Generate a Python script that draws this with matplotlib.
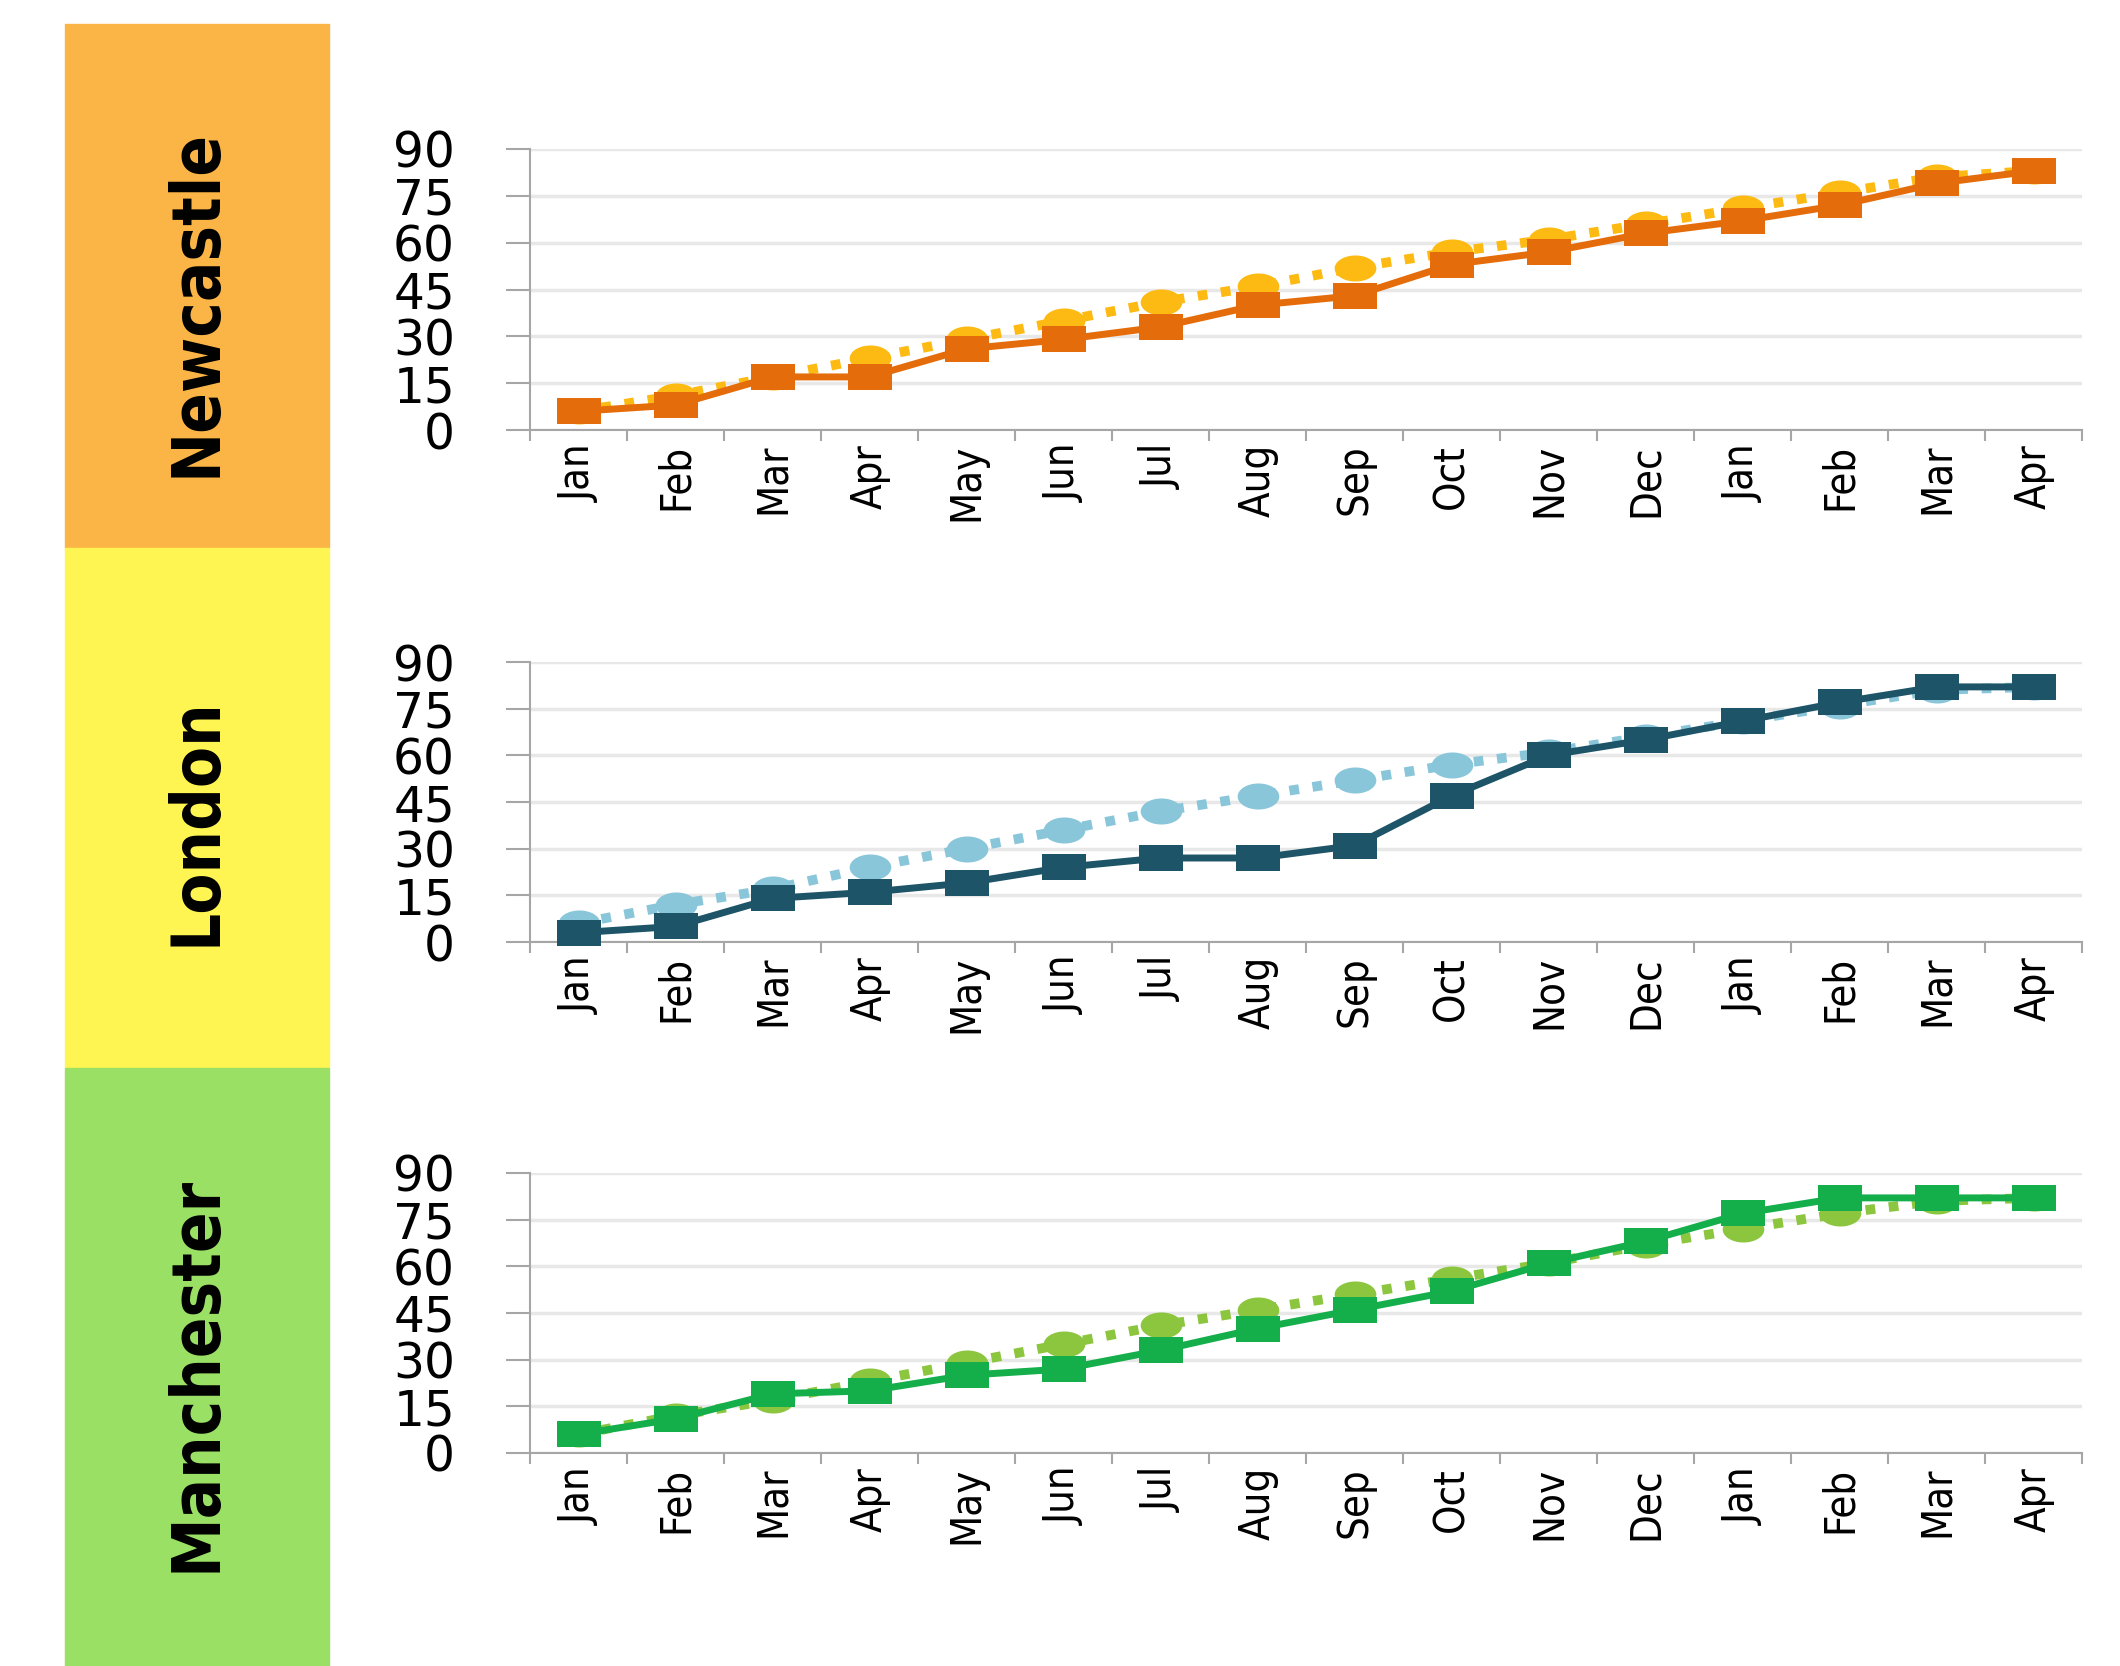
import numpy as np
import matplotlib
matplotlib.use("Agg")
import matplotlib.pyplot as plt
from matplotlib.patches import Rectangle
from matplotlib.path import Path
from matplotlib import font_manager

# data
months = ["Jan", "Feb", "Mar", "Apr", "May", "Jun", "Jul", "Aug",
          "Sep", "Oct", "Nov", "Dec", "Jan", "Feb", "Mar", "Apr"]
cities = ["Newcastle", "London", "Manchester"]

newcastle_actual = [6, 8, 17, 17, 26, 29, 33, 40, 43, 53, 57, 63, 67, 72, 79, 83]
newcastle_target = [6, 11, 17, 23, 29, 35, 41, 46, 52, 57, 61, 66, 71, 76, 81, 83]
london_actual = [3, 5, 14, 16, 19, 24, 27, 27, 31, 47, 60, 65, 71, 77, 82, 82]
london_target = [6, 12, 17, 24, 30, 36, 42, 47, 52, 57, 61, 66, 71, 76, 81, 82]
manchester_actual = [6, 11, 19, 20, 25, 27, 33, 40, 46, 52, 61, 68, 77, 82, 82, 82]
manchester_target = [6, 12, 17, 23, 29, 35, 41, 46, 51, 56, 61, 67, 72, 77, 81, 82]

actuals = [newcastle_actual, london_actual, manchester_actual]
targets = [newcastle_target, london_target, manchester_target]

panel_colors = ["#FBB446", "#FFF552", "#99E064"]
actual_colors = ["#E46C0A", "#1D5467", "#14AE4B"]
target_colors = ["#FDBA12", "#8AC6D9", "#8CC63F"]

# the source uses a narrow face; pick a condensed one if installed
narrow = None
for f in font_manager.fontManager.ttflist:
    if f.stretch in ("condensed", "semi-condensed", "extra-condensed") or \
            "Narrow" in f.name or "Condensed" in f.name:
        narrow = f
        break
if narrow is not None:
    cond_kw = {"family": narrow.name, "stretch": narrow.stretch}
else:
    cond_kw = {"family": "DejaVu Sans"}

W, H = 2120, 1666
fig = plt.figure(figsize=(W / 100, H / 100), dpi=100)

# wide markers (the source picture is stretched sideways)
sq = Path([(-1.6, -1), (1.6, -1), (1.6, 1), (-1.6, 1), (-1.6, -1)],
          [Path.MOVETO, Path.LINETO, Path.LINETO, Path.LINETO, Path.CLOSEPOLY])
t = np.linspace(0, 2 * np.pi, 60)
ell = Path(np.column_stack([1.6 * np.cos(t), np.sin(t)]), closed=True)

# coloured side panels (pixel edges top->bottom)
panel_edges = [24, 548, 1068, 1666]
for i, c in enumerate(panel_colors):
    y0, y1 = panel_edges[i], panel_edges[i + 1]
    fig.patches.append(Rectangle((65 / W, 1 - y1 / H), (329 - 65) / W, (y1 - y0) / H,
                                 transform=fig.transFigure, color=c, zorder=0))

label_y = [303, 822, 1374]
axes_px = [(149, 430), (662, 942), (1173, 1453)]
x = np.arange(len(months))
grey = "#A6A6A6"

for i in range(3):
    top, bot = axes_px[i]
    ax = fig.add_axes([530 / W, 1 - bot / H, (2082 - 530) / W, (bot - top) / H])
    ax.plot(x, targets[i], color=target_colors[i], lw=7, linestyle=(0, (1, 1.4)),
            dash_capstyle="butt", marker=ell, markersize=30, markeredgewidth=0,
            clip_on=False, zorder=3)
    ax.plot(x, actuals[i], color=actual_colors[i], lw=5, marker=sq, markersize=31,
            markeredgewidth=0, clip_on=False, zorder=4)

    ax.set_xlim(-0.5, len(months) - 0.5)
    ax.set_ylim(0, 90)
    ax.set_yticks(range(0, 91, 15))
    ax.set_xticks(x)
    ax.set_xticklabels(months, rotation=90, fontsize=30, va="top", **cond_kw)
    ax.set_xticks(np.arange(-0.5, len(months)), minor=True)
    ax.tick_params(axis="x", which="major", length=0, pad=10)
    ax.tick_params(axis="x", which="minor", length=8, width=1.5, color=grey, direction="out")
    ax.tick_params(axis="y", length=17, width=1.5, color=grey, pad=37, labelsize=35)
    for lab in ax.get_yticklabels():
        lab.set_family("DejaVu Sans")
    ax.grid(axis="y", color="#E8E8E8", lw=2.5)
    ax.set_axisbelow(True)
    for s in ["top", "right"]:
        ax.spines[s].set_visible(False)
    for s in ["left", "bottom"]:
        ax.spines[s].set_color(grey)
        ax.spines[s].set_linewidth(1.5)

    fig.text(197 / W, 1 - label_y[i] / H, cities[i], rotation=90, ha="center", va="center",
             fontsize=48, fontweight="bold", **cond_kw)

fig.savefig("out.png", dpi=100)
